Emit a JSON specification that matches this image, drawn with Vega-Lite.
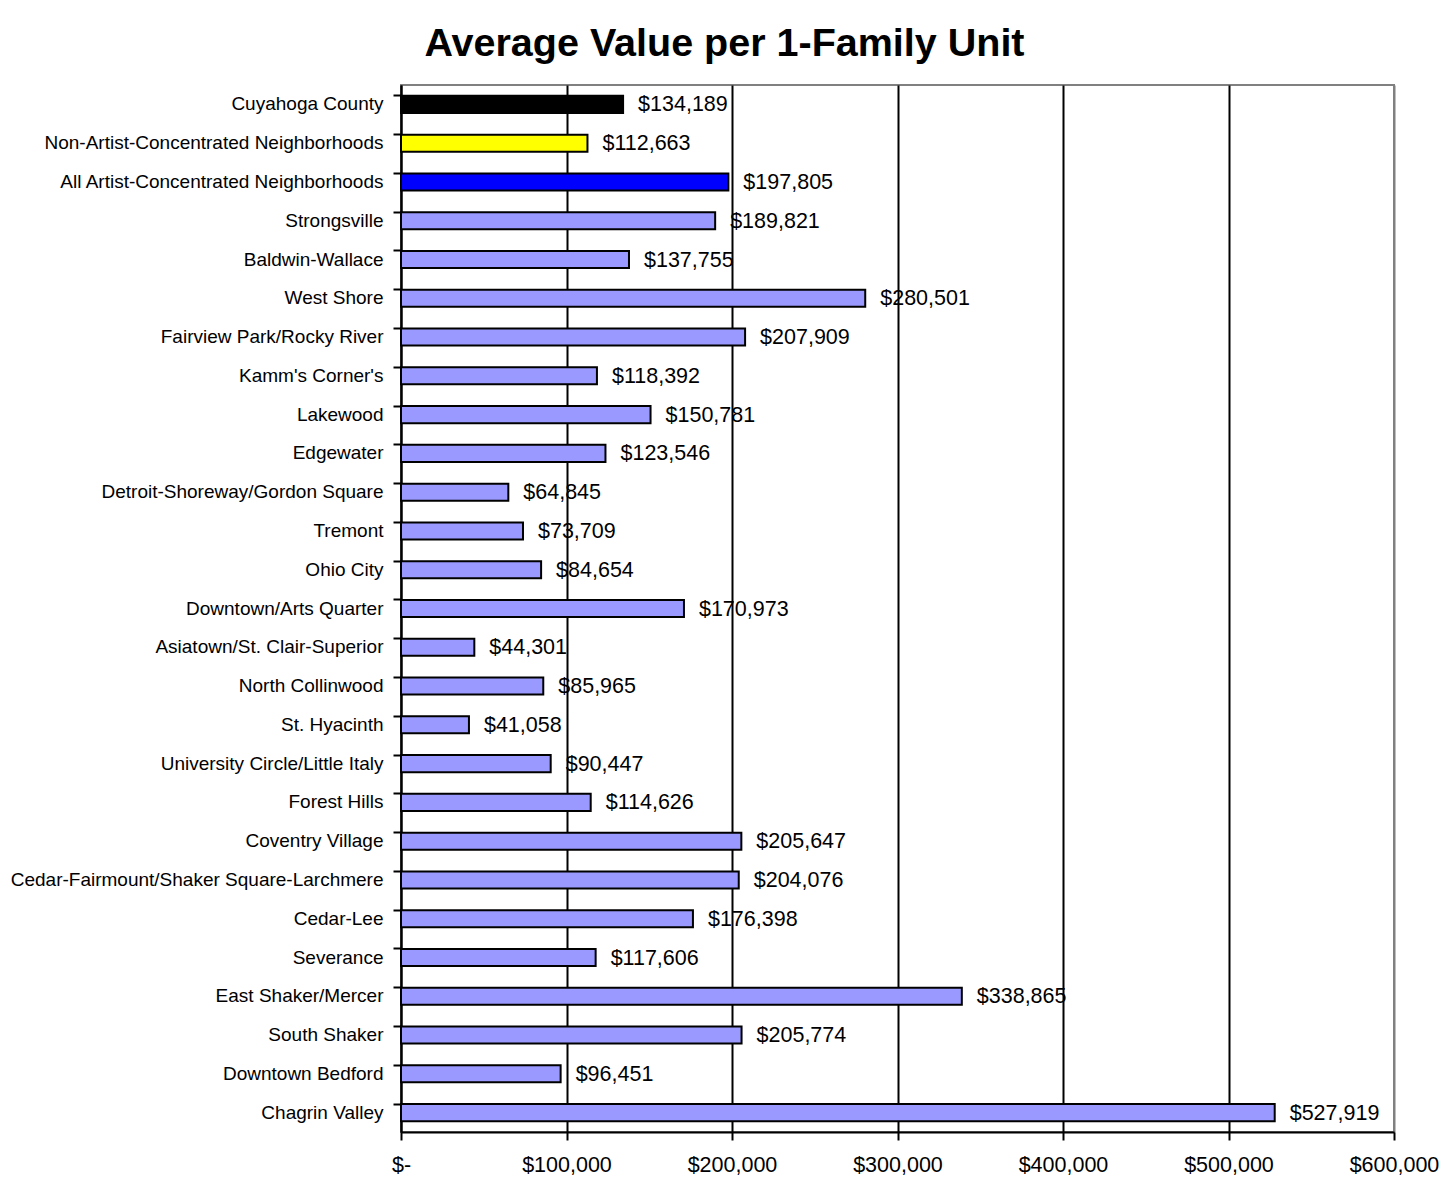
{
  "$schema": "https://vega.github.io/schema/vega-lite/v6.json",
  "width": 993,
  "height": 1047,
  "autosize": {"type": "none"},
  "padding": {"left": 401, "top": 85, "right": 55, "bottom": 53},
  "background": "white",
  "title": {
    "text": "Average Value per 1-Family Unit",
    "font": "Liberation Sans",
    "fontSize": 39.5,
    "fontWeight": "bold",
    "color": "black",
    "anchor": "middle",
    "dx": -173,
    "offset": 21
  },
  "config": {
    "view": {"stroke": "#808080", "strokeWidth": 2},
    "font": "Liberation Sans"
  },
  "data": {
    "values": [
      {"name": "Cuyahoga County", "value": 134189, "group": "county"},
      {"name": "Non-Artist-Concentrated Neighborhoods", "value": 112663, "group": "non"},
      {"name": "All Artist-Concentrated Neighborhoods", "value": 197805, "group": "all"},
      {"name": "Strongsville", "value": 189821, "group": "nbhd"},
      {"name": "Baldwin-Wallace", "value": 137755, "group": "nbhd"},
      {"name": "West Shore", "value": 280501, "group": "nbhd"},
      {"name": "Fairview Park/Rocky River", "value": 207909, "group": "nbhd"},
      {"name": "Kamm's Corner's", "value": 118392, "group": "nbhd"},
      {"name": "Lakewood", "value": 150781, "group": "nbhd"},
      {"name": "Edgewater", "value": 123546, "group": "nbhd"},
      {"name": "Detroit-Shoreway/Gordon Square", "value": 64845, "group": "nbhd"},
      {"name": "Tremont", "value": 73709, "group": "nbhd"},
      {"name": "Ohio City", "value": 84654, "group": "nbhd"},
      {"name": "Downtown/Arts Quarter", "value": 170973, "group": "nbhd"},
      {"name": "Asiatown/St. Clair-Superior", "value": 44301, "group": "nbhd"},
      {"name": "North Collinwood", "value": 85965, "group": "nbhd"},
      {"name": "St. Hyacinth", "value": 41058, "group": "nbhd"},
      {"name": "University Circle/Little Italy", "value": 90447, "group": "nbhd"},
      {"name": "Forest Hills", "value": 114626, "group": "nbhd"},
      {"name": "Coventry Village", "value": 205647, "group": "nbhd"},
      {"name": "Cedar-Fairmount/Shaker Square-Larchmere", "value": 204076, "group": "nbhd"},
      {"name": "Cedar-Lee", "value": 176398, "group": "nbhd"},
      {"name": "Severance", "value": 117606, "group": "nbhd"},
      {"name": "East Shaker/Mercer", "value": 338865, "group": "nbhd"},
      {"name": "South Shaker", "value": 205774, "group": "nbhd"},
      {"name": "Downtown Bedford", "value": 96451, "group": "nbhd"},
      {"name": "Chagrin Valley", "value": 527919, "group": "nbhd"}
    ]
  },
  "encoding": {
    "y": {
      "field": "name",
      "type": "nominal",
      "sort": null,
      "scale": {"paddingInner": 0.56, "paddingOuter": 0.28},
      "axis": {
        "title": null,
        "bandPosition": 0,
        "labelFont": "Liberation Sans",
        "labelFontSize": 19,
        "labelColor": "black",
        "labelPadding": 10,
        "labelLimit": 500,
        "tickSize": 8,
        "tickColor": "black",
        "tickWidth": 2,
        "domainColor": "black",
        "domainWidth": 2,
        "grid": false
      }
    },
    "x": {
      "field": "value",
      "type": "quantitative",
      "scale": {"domain": [0, 600000], "nice": false},
      "axis": {
        "title": null,
        "values": [0, 100000, 200000, 300000, 400000, 500000, 600000],
        "labelExpr": "datum.value == 0 ? '$-' : format(datum.value, '$,')",
        "labelFlush": false,
        "labelFont": "Liberation Sans",
        "labelFontSize": 21.5,
        "labelColor": "black",
        "labelPadding": 14,
        "tickSize": 8,
        "tickColor": "black",
        "tickWidth": 2,
        "domainColor": "black",
        "domainWidth": 2,
        "grid": true,
        "gridColor": {"condition": {"test": "datum.value >= 600000", "value": "#808080"}, "value": "black"},
        "gridWidth": 2,
        "gridOpacity": 1
      }
    }
  },
  "layer": [
    {
      "mark": {"type": "bar", "stroke": "black", "strokeWidth": 2},
      "encoding": {
        "color": {
          "field": "group",
          "type": "nominal",
          "scale": {
            "domain": ["county", "non", "all", "nbhd"],
            "range": ["#000000", "#FFFF00", "#0000FF", "#9999FF"]
          },
          "legend": null
        }
      }
    },
    {
      "mark": {
        "type": "text",
        "align": "left",
        "baseline": "middle",
        "dx": 15,
        "dy": 1,
        "font": "Liberation Sans",
        "fontSize": 21.5,
        "color": "black"
      },
      "encoding": {
        "text": {"field": "value", "type": "quantitative", "format": "$,"}
      }
    }
  ]
}
